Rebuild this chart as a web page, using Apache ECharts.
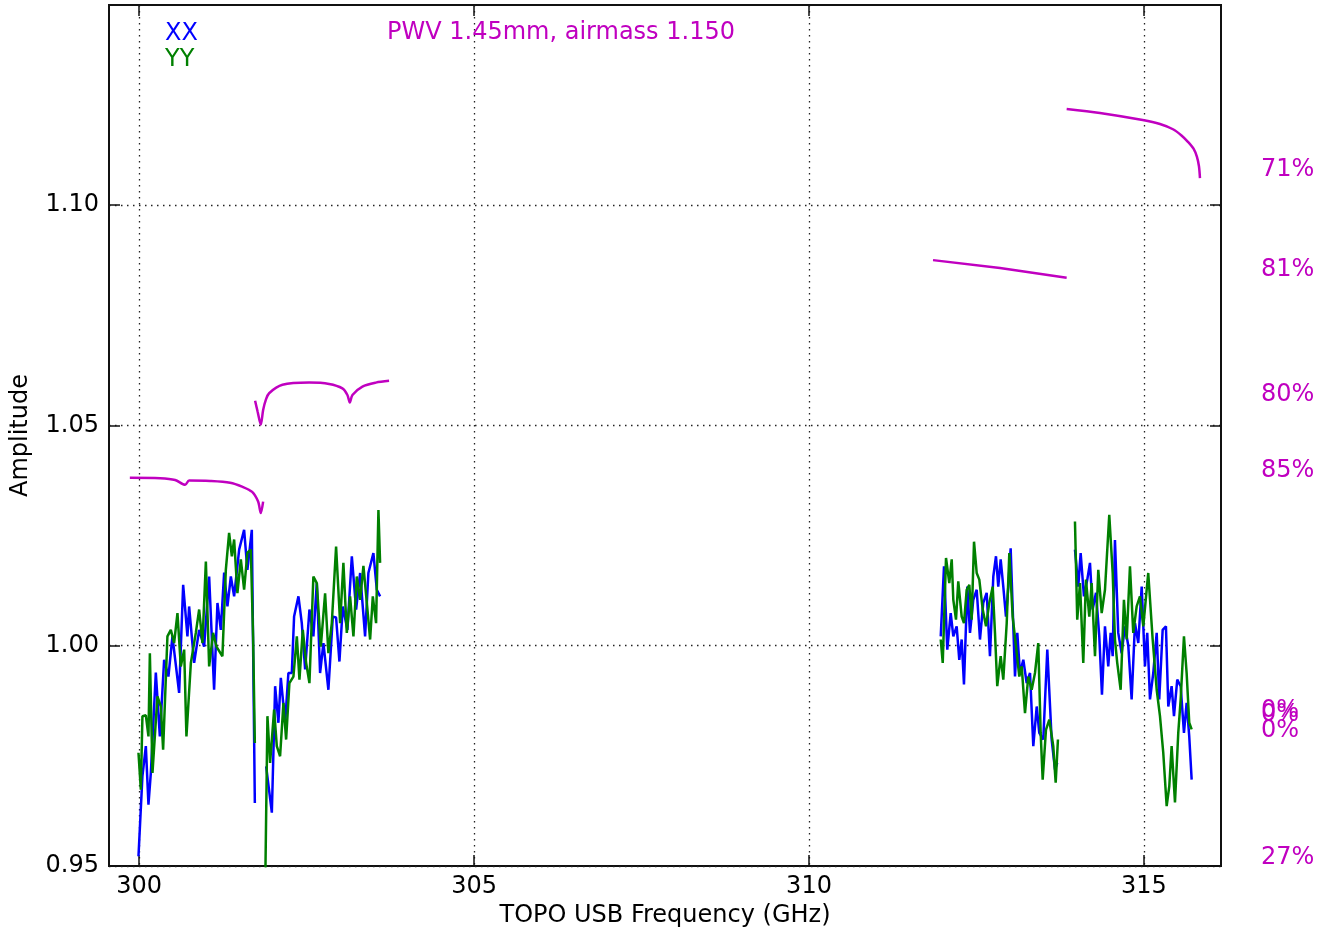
<!DOCTYPE html>
<html>
<head>
<meta charset="utf-8">
<script src="https://cdn.jsdelivr.net/npm/echarts@6/dist/echarts.min.js"></script>
<style>
html,body{margin:0;padding:0;background:#fff;}
#chart{width:1319px;height:927px;}
</style>
</head>
<body>
<div id="chart"></div>
<script>
// ---------- DATA ----------
const xTicks = [300, 305, 310, 315];
const yTicks = [0.95, 1.00, 1.05, 1.10];
const xRange = [299.55, 316.15];
const yRange = [0.95, 1.1454];

const XX_seg1 = [[299.990,0.9522],[300.049,0.9704],[300.100,0.9772],[300.139,0.9639],[300.175,0.9712],[300.249,0.9939],[300.309,0.9794],[300.373,0.9968],[300.437,0.9930],[300.497,1.0021],[300.597,0.9893],[300.657,1.0138],[300.721,1.0021],[300.746,1.0089],[300.821,0.9961],[300.896,1.0036],[300.970,0.9998],[301.045,1.0157],[301.119,0.9900],[301.169,1.0097],[301.219,1.0036],[301.269,1.0166],[301.318,1.0089],[301.369,1.0157],[301.418,1.0112],[301.493,1.0218],[301.567,1.0263],[301.616,1.0172],[301.682,1.0263],[301.727,0.9643]];
const XX_seg2 = [[301.896,0.9726],[301.981,0.9621],[302.030,0.9908],[302.079,0.9825],[302.115,0.9927],[302.179,0.9825],[302.228,0.9938],[302.279,0.9938],[302.313,1.0066],[302.378,1.0112],[302.428,1.0051],[302.478,0.9946],[302.542,1.0082],[302.601,1.0021],[302.652,1.0142],[302.701,0.9938],[302.751,1.0006],[302.825,0.9900],[302.891,1.0066],[302.940,1.0064],[302.990,0.9964],[303.040,1.0089],[303.109,1.0036],[303.175,1.0203],[303.239,1.0082],[303.299,1.0165],[303.373,1.0021],[303.422,1.0165],[303.497,1.0210],[303.548,1.0127],[303.597,1.0112]];
const XX_seg3 = [[311.966,1.0021],[312.015,1.0180],[312.064,0.9991],[312.115,1.0074],[312.154,1.0021],[312.204,1.0044],[312.243,0.9968],[312.279,1.0014],[312.313,0.9912],[312.363,1.0134],[312.403,1.0029],[312.452,1.0104],[312.503,1.0127],[312.552,1.0014],[312.601,1.0097],[312.652,1.0120],[312.701,0.9976],[312.751,1.0157],[312.791,1.0203],[312.825,1.0134],[312.861,1.0196],[312.900,1.0134],[312.940,1.0066],[312.975,1.0134],[313.010,1.0221],[313.075,0.9930],[313.109,1.0029],[313.149,0.9938],[313.199,0.9968],[313.249,0.9915],[313.299,0.9938],[313.348,0.9772],[313.399,0.9862],[313.437,0.9802],[313.497,0.9787],[313.557,0.9991],[313.622,0.9787],[313.672,0.9719],[313.706,0.9734]];
const XX_seg4 = [[313.970,1.0218],[314.019,1.0134],[314.055,1.0210],[314.104,1.0112],[314.154,1.0150],[314.194,1.0188],[314.234,1.0082],[314.284,1.0120],[314.333,1.0021],[314.373,0.9889],[314.418,1.0044],[314.467,0.9953],[314.503,1.0029],[314.533,0.9976],[314.567,1.0240],[314.616,1.0029],[314.667,0.9983],[314.716,1.0044],[314.766,1.0000],[314.816,0.9878],[314.866,1.0051],[314.915,1.0006],[314.966,1.0134],[315.015,0.9953],[315.049,1.0029],[315.090,0.9878],[315.139,0.9938],[315.190,1.0029],[315.228,0.9878],[315.279,1.0036],[315.328,1.0044],[315.363,0.9862],[315.413,0.9908],[315.448,0.9840],[315.497,0.9923],[315.548,0.9908],[315.597,0.9802],[315.637,0.9870],[315.676,0.9794],[315.712,0.9696]];

const YY_seg1 = [[299.990,0.9757],[300.025,0.9673],[300.049,0.9840],[300.100,0.9842],[300.139,0.9794],[300.160,0.9983],[300.199,0.9711],[300.273,0.9885],[300.324,0.9862],[300.358,0.9764],[300.422,1.0021],[300.473,1.0036],[300.522,1.0006],[300.572,1.0074],[300.622,0.9953],[300.672,0.9991],[300.706,0.9794],[300.772,0.9961],[300.846,1.0029],[300.896,1.0082],[300.945,1.0006],[300.996,1.0191],[301.045,0.9953],[301.104,1.0029],[301.154,0.9998],[301.243,0.9976],[301.294,1.0172],[301.343,1.0256],[301.384,1.0203],[301.418,1.0241],[301.467,1.0119],[301.518,1.0196],[301.567,1.0127],[301.616,1.0211],[301.667,1.0218],[301.701,1.0021],[301.727,0.9779]];
const YY_seg2 = [[301.881,0.9440],[301.915,0.9840],[301.955,0.9734],[302.015,0.9855],[302.055,0.9772],[302.104,0.9749],[302.154,0.9870],[302.194,0.9787],[302.243,0.9915],[302.303,0.9930],[302.354,1.0021],[302.393,0.9923],[302.443,1.0036],[302.493,0.9961],[302.542,0.9915],[302.601,1.0157],[302.652,1.0142],[302.712,0.9998],[302.776,1.0119],[302.825,0.9983],[302.876,1.0051],[302.940,1.0225],[303.000,1.0051],[303.049,1.0188],[303.100,1.0029],[303.149,1.0112],[303.199,1.0021],[303.249,1.0157],[303.299,1.0104],[303.348,1.0181],[303.399,1.0097],[303.448,1.0014],[303.488,1.0112],[303.537,1.0051],[303.572,1.0308],[303.597,1.0188]];
const YY_seg3 = [[311.966,1.0014],[311.996,0.9961],[312.045,1.0199],[312.094,1.0142],[312.130,1.0196],[312.154,1.0104],[312.194,1.0059],[312.228,1.0146],[312.279,1.0066],[312.313,1.0051],[312.354,1.0127],[312.393,1.0138],[312.428,1.0059],[312.463,1.0236],[312.503,1.0165],[312.542,1.0150],[312.593,1.0082],[312.642,1.0044],[312.691,1.0097],[312.742,1.0134],[312.776,1.0029],[312.810,0.9908],[312.861,0.9976],[312.900,0.9923],[312.951,1.0051],[312.990,1.0210],[313.040,1.0066],[313.090,0.9998],[313.139,0.9930],[313.175,0.9953],[313.224,0.9847],[313.273,0.9930],[313.324,0.9900],[313.373,0.9938],[313.422,1.0006],[313.458,0.9802],[313.488,0.9696],[313.537,0.9809],[313.587,0.9832],[313.646,0.9772],[313.682,0.9689],[313.716,0.9787]];
const YY_seg4 = [[313.970,1.0282],[314.004,1.0059],[314.045,1.0142],[314.094,0.9961],[314.134,1.0150],[314.184,1.0066],[314.219,1.0142],[314.269,0.9976],[314.318,1.0172],[314.369,1.0074],[314.418,1.0127],[314.482,1.0297],[314.533,1.0165],[314.567,1.0014],[314.601,0.9961],[314.652,0.9900],[314.701,1.0104],[314.742,1.0014],[314.791,1.0180],[314.840,1.0029],[314.891,1.0089],[314.940,1.0112],[314.990,1.0044],[315.064,1.0165],[315.130,1.0014],[315.190,0.9900],[315.239,0.9840],[315.288,0.9757],[315.339,0.9636],[315.378,0.9681],[315.413,0.9772],[315.463,0.9644],[315.512,0.9802],[315.548,0.9878],[315.597,1.0021],[315.637,0.9938],[315.676,0.9825],[315.712,0.9810]];

// atmospheric transmission curves (plotted in amplitude units)
const ATM_seg1 = [[299.861,1.0381],[300.313,1.0380],[300.537,1.0376],[300.687,1.0365],[300.746,1.0375],[301.060,1.0374],[301.358,1.0370],[301.537,1.0361],[301.687,1.0349],[301.776,1.0327],[301.816,1.0301],[301.851,1.0327]];
const ATM_seg2 = [[301.731,1.0556],[301.769,1.0531],[301.816,1.0502],[301.851,1.0535],[301.891,1.0558],[301.940,1.0573],[302.139,1.0592],[302.537,1.0597],[302.836,1.0594],[303.034,1.0584],[303.109,1.0569],[303.145,1.0552],[303.184,1.0569],[303.333,1.0588],[303.533,1.0597],[303.731,1.0601]];
const ATM_seg3 = [[311.851,1.0875],[312.851,1.0857],[313.846,1.0835]];
const ATM_seg4 = [[313.846,1.1218],[314.343,1.1209],[314.981,1.1193],[315.239,1.1184],[315.433,1.1172],[315.560,1.1158],[315.660,1.1143],[315.740,1.1128],[315.790,1.1110],[315.821,1.1088],[315.836,1.1061]];

// right-hand transmission labels and the amplitude level they sit at
const atmLabels = ['71%', '81%', '80%', '85%', '0%', '0%', '0%', '27%'];
const atmLabelLevels = [1.1080, 1.0853, 1.0570, 1.0397, 0.9852, 0.9843, 0.9807, 0.9518];

const titleText = 'PWV 1.45mm, airmass 1.150';
const seriesNames = ['XX', 'YY'];

// ---------- CHART ----------
const FONT = 'DejaVu Sans';
const FS = 24;
const MAG = '#c000c0';
const chart = echarts.init(document.getElementById('chart'), null, {renderer: 'canvas'});

function lineSeries(name, data, color, z, smooth) {
  return {
    name: name, type: 'line', data: data, showSymbol: false, symbol: 'none',
    smooth: smooth || false,
    lineStyle: {color: color, width: 2.5}, itemStyle: {color: color},
    clip: true, z: z, animation: false, silent: true
  };
}

const series = [];
[XX_seg1, XX_seg2, XX_seg3, XX_seg4].forEach(d => series.push(lineSeries(seriesNames[0], d, '#0000ff', 2)));
[YY_seg1, YY_seg2, YY_seg3, YY_seg4].forEach(d => series.push(lineSeries(seriesNames[1], d, '#008000', 3)));
series.push(lineSeries('atm', ATM_seg1, MAG, 4, 0.3));
series.push(lineSeries('atm', ATM_seg2, MAG, 4, 0.3));
series.push(lineSeries('atm', ATM_seg3, MAG, 4, false));
series.push(lineSeries('atm', ATM_seg4, MAG, 4, 0.3));

const grid = {left: 109, top: 5, right: 98, bottom: 61, show: true, borderColor: '#111', borderWidth: 2,
  backgroundColor: '#fff', containLabel: false, outerBoundsMode: 'none'};

const dotted = {show: true, lineStyle: {color: '#222', width: 1.3, type: [1.5, 4.5]}};

option = {
  animation: false,
  backgroundColor: '#fff',
  title: {text: titleText, left: 382, top: 16, textStyle: {color: MAG, fontFamily: FONT, fontSize: FS, fontWeight: 'normal'}},
  legend: {
    data: [{name: 'XX', textStyle: {color: '#0000ff'}}, {name: 'YY', textStyle: {color: '#008000'}}],
    orient: 'vertical', left: 160, top: 22, icon: 'none', itemWidth: 0, itemHeight: 14, itemGap: 2,
    padding: 0,
    textStyle: {fontFamily: FONT, fontSize: FS, lineHeight: 24}, selectedMode: false
  },
  grid: grid,
  xAxis: [{
    type: 'value', min: xRange[0], max: xRange[1], position: 'bottom',
    name: 'TOPO USB Frequency (GHz)', nameLocation: 'middle', nameGap: 37,
    nameTextStyle: {color: '#000', fontFamily: FONT, fontSize: FS},
    axisLine: {show: false},
    axisTick: {show: true, inside: true, length: 11, customValues: xTicks, lineStyle: {color: '#111', width: 1.5}},
    axisLabel: {show: true, customValues: xTicks, color: '#000', fontFamily: FONT, fontSize: FS, margin: 9, formatter: v => String(Math.round(v))},
    splitLine: dotted
  }, {
    type: 'value', min: xRange[0], max: xRange[1], position: 'top',
    axisLine: {show: false},
    axisTick: {show: true, inside: true, length: 11, customValues: xTicks, lineStyle: {color: '#111', width: 1.5}},
    axisLabel: {show: false, customValues: xTicks},
    splitLine: {show: false}
  }],
  yAxis: [{
    type: 'value', min: yRange[0], max: yRange[1], position: 'left',
    name: 'Amplitude', nameLocation: 'middle', nameGap: 76, nameRotate: 90,
    nameTextStyle: {color: '#000', fontFamily: FONT, fontSize: FS},
    axisLine: {show: false},
    axisTick: {show: true, inside: true, length: 11, customValues: yTicks, lineStyle: {color: '#111', width: 1.5}},
    axisLabel: {show: true, customValues: yTicks, color: '#000', fontFamily: FONT, fontSize: FS, margin: 10, formatter: v => v.toFixed(2)},
    splitLine: dotted
  }, {
    type: 'value', min: yRange[0], max: yRange[1], position: 'right',
    axisLine: {show: false},
    axisTick: {show: true, inside: true, length: 11, customValues: yTicks, lineStyle: {color: '#111', width: 1.5}},
    axisLabel: {show: false, customValues: yTicks},
    splitLine: {show: false}
  }],
  series: series
};
chart.setOption(option);

// right-hand percentage labels placed at their amplitude level
const gfx = atmLabels.map((t, i) => {
  const p = chart.convertToPixel({xAxisIndex: 0, yAxisIndex: 0}, [xRange[1], atmLabelLevels[i]]);
  return {
    type: 'text', x: p[0] + 40, y: p[1], silent: true, z: 10,
    style: {text: t, fill: MAG, font: FS + 'px "' + FONT + '"', textAlign: 'left', textVerticalAlign: 'middle'}
  };
});
chart.setOption({graphic: gfx});
</script>
</body>
</html>
